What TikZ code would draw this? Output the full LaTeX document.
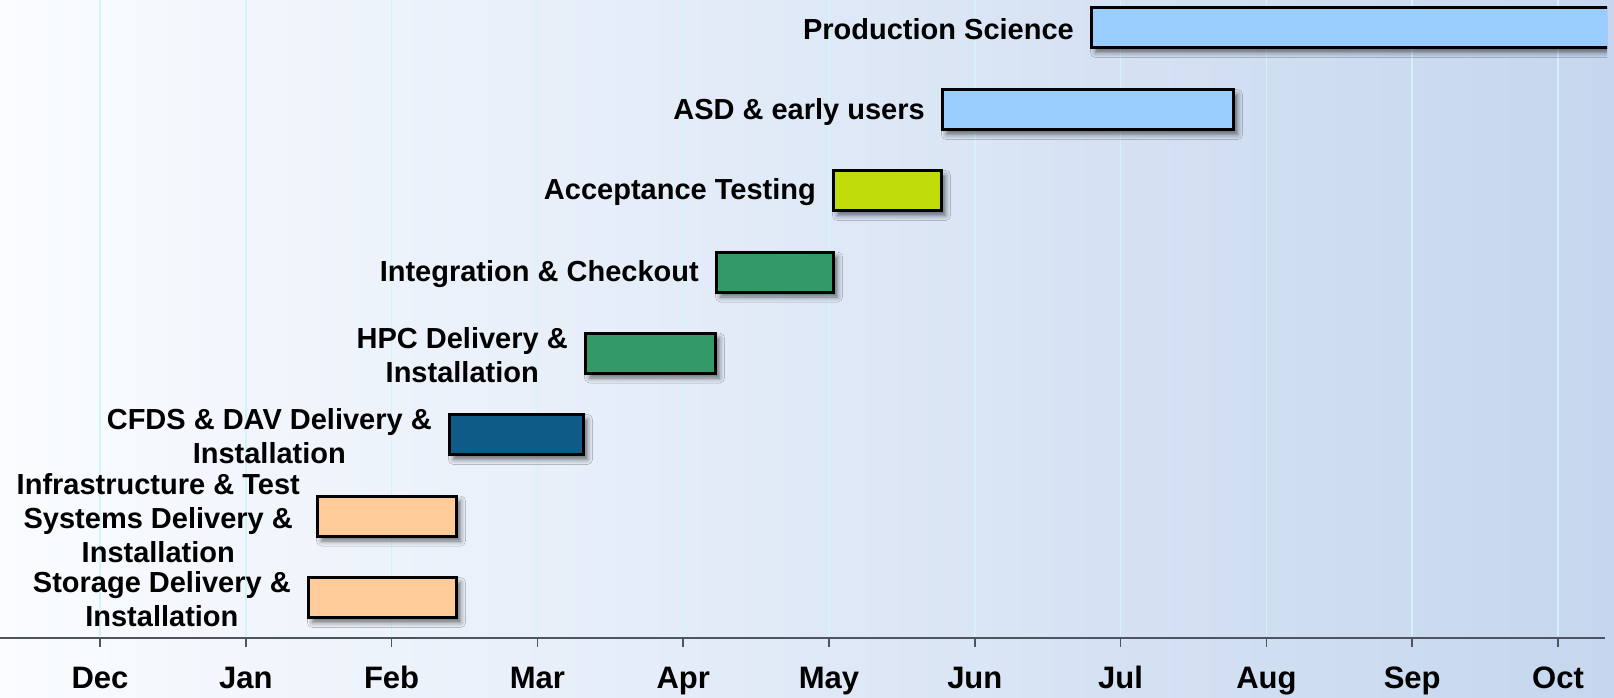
\documentclass[tikz,border=0pt]{standalone}
\usepackage{fontspec}
\setmainfont{Liberation Sans}
\usetikzlibrary{positioning,shadows.blur}
\definecolor{skyblue}{HTML}{99CCFF}
\definecolor{acceptgreen}{HTML}{C0DC0A}
\definecolor{seagreen}{HTML}{339966}
\definecolor{deepblue}{HTML}{0F5B87}
\definecolor{peach}{HTML}{FFCC99}
\definecolor{bgleft}{HTML}{FAFCFF}
\definecolor{bgright}{HTML}{C5D6EE}
\definecolor{gridcyan}{HTML}{D2F4F9}
\definecolor{axisgray}{HTML}{4E5560}
\tikzstyle{task bar}=[rectangle, draw=black
,line width=3pt
,minimum height=40pt
,inner sep=0pt
,blur shadow={shadow xshift=4pt,shadow yshift=-5pt,shadow blur radius=5pt,shadow opacity=55}
]
\tikzstyle{task label}=[align=center, inner sep=0pt, yshift=-2pt, font=\bfseries\fontsize{29}{34}\selectfont]
\tikzstyle{month label}=[anchor=base, inner sep=0pt, font=\bfseries\fontsize{31}{34}\selectfont]
\tikzstyle{gridline}=[draw=gridcyan, line width=1.5pt]
\tikzstyle{axis}=[draw=axisgray, line width=1.5pt]

\begin{document}
\begin{tikzpicture}[x=1pt,y=-1pt]
    % Background, shaded from left to right
    \useasboundingbox (0,0) rectangle (1614,697);
    \fill[left color=bgleft, right color=bgright] (0,0) rectangle (1614,697);

    % Month grid, axis and ticks
    \draw[axis] (0,638) -- (1605,638);
    \foreach \m [count=\i from 0] in {Dec,Jan,Feb,Mar,Apr,May,Jun,Jul,Aug,Sep,Oct}{
        \pgfmathsetmacro\mx{100+145.8*\i}
        \path[gridline] (\mx,0) -- (\mx,636);
        \coordinate (tick-\m) at (\mx,638);
        \path[axis] (tick-\m) -- ++(0,9);
        \node[month label] (\m) at (\mx,688) {\m};
    }

    % Then the task bars
    \begin{scope}
    \clip (0,0) rectangle (1607,697);
    \foreach \xa/\xb/\y/\col/\name in {1090/1640/27.5/skyblue/prod, 941/1235/109.5/skyblue/asd,
        832/943/190.5/acceptgreen/accept, 715/835/272/seagreen/integ, 584/717/353/seagreen/hpc,
        448/585/434.5/deepblue/cfds, 316/458/516/peach/infra, 307/458/597.5/peach/storage}{
        \pgfmathsetmacro\w{\xb-\xa-3}
        \pgfmathsetmacro\cx{(\xa+\xb)/2}
        \node[task bar, fill=\col, minimum width=\w pt] (\name) at (\cx,\y) {};
    }
    \end{scope}

    % Labels left of each bar
    \foreach \name/\txt in {prod/{Production Science}, asd/{ASD \& early users},
        accept/{Acceptance Testing}, integ/{Integration \& Checkout},
        hpc/{HPC Delivery \&\\Installation}, cfds/{CFDS \& DAV Delivery \&\\Installation},
        infra/{Infrastructure \& Test\\Systems Delivery \&\\Installation},
        storage/{Storage Delivery \&\\Installation}}
        \node[task label, left=16pt of \name] (\name-label) {\txt};

\end{tikzpicture}
\end{document}
